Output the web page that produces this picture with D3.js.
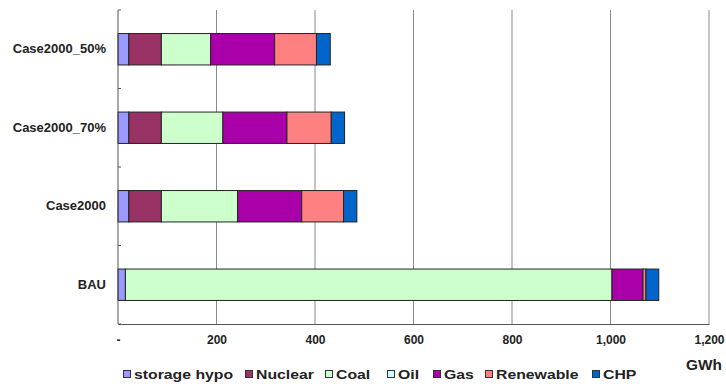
<!DOCTYPE html>
<html>
<head>
<meta charset="utf-8">
<script src="https://cdn.jsdelivr.net/npm/d3@7"></script>
<style>
  html, body { margin: 0; padding: 0; background: #fff; }
  svg { display: block; }
  text { font-family: "Liberation Sans", Arial, sans-serif; font-weight: bold; fill: #222; }
</style>
</head>
<body>
<svg id="chart" width="726" height="384"></svg>
<script>
// Generation mix per scenario (GWh)
const categories = ["Case2000_50%", "Case2000_70%", "Case2000", "BAU"];
const seriesNames = ["storage hypo", "Nuclear", "Coal", "Oil", "Gas", "Renewable", "CHP"];
const storageHypo = [22, 22, 22, 15];
const nuclear     = [66, 66, 66, 0];
const coal        = [100, 125, 155, 988];
const oil         = [0, 0, 0, 0];
const gas         = [130, 130, 130, 63];
const renewable   = [85, 90, 85, 6];
const chp         = [28, 27, 27, 26];
const xTicks = [0, 200, 400, 600, 800, 1000, 1200];
const colors = ["#9999FF", "#993366", "#CCFFCC", "#CCFFFF", "#AA00AA", "#FF8080", "#0066CC"];

const seriesValues = [storageHypo, nuclear, coal, oil, gas, renewable, chp];
const rows = categories.map((c, i) => {
  const r = { category: c };
  seriesNames.forEach((s, k) => { r[s] = seriesValues[k][i]; });
  return r;
});

const svg = d3.select("#chart");
const plot = { left: 118, right: 709, top: 10, bottom: 324 };

const x = d3.scaleLinear().domain([0, 1200]).range([plot.left, plot.right]);
const y = d3.scaleBand().domain(categories).range([plot.top, plot.bottom])
  .paddingInner(0.6).paddingOuter(0.3);

// vertical gridlines
svg.append("g").selectAll("line").data(xTicks.filter(d => d > 0)).join("line")
  .attr("x1", d => x(d)).attr("x2", d => x(d))
  .attr("y1", plot.top).attr("y2", plot.bottom)
  .attr("stroke", "#8a8a8a").attr("stroke-width", 1);

// stacked bars
const stacked = d3.stack().keys(seriesNames)(rows);
svg.append("g").selectAll("g").data(stacked).join("g")
  .attr("fill", (d, i) => colors[i])
  .selectAll("rect").data(d => d.filter(s => s[1] - s[0] > 0)).join("rect")
  .attr("x", d => x(d[0]))
  .attr("width", d => x(d[1]) - x(d[0]))
  .attr("y", d => y(d.data.category))
  .attr("height", y.bandwidth())
  .attr("stroke", "#222").attr("stroke-width", 1);

// value axis
const xAxis = d3.axisBottom(x).tickValues(xTicks)
  .tickFormat(d => d === 0 ? "-" : d3.format(",")(d))
  .tickSize(0).tickPadding(11);
const gx = svg.append("g").attr("transform", `translate(0,${plot.bottom})`).call(xAxis);
gx.select(".domain").attr("stroke", "#555");
gx.selectAll("text").attr("font-size", 12).attr("fill", "#222")
  .attr("font-family", "Liberation Sans, Arial, sans-serif").attr("font-weight", "bold");

// category axis with inward ticks at band edges
const bandEdges = [plot.top].concat(categories.map(c => y(c) + y.bandwidth() + y.step() * y.paddingInner() / 2));
svg.append("line").attr("x1", plot.left).attr("x2", plot.left)
  .attr("y1", plot.top).attr("y2", plot.bottom).attr("stroke", "#555");
svg.append("g").selectAll("line").data(bandEdges).join("line")
  .attr("x1", plot.left).attr("x2", plot.left + 3)
  .attr("y1", d => d).attr("y2", d => d).attr("stroke", "#555");

const yAxis = d3.axisLeft(y).tickSize(0).tickPadding(12);
const gy = svg.append("g").attr("transform", `translate(${plot.left},0)`).call(yAxis);
gy.select(".domain").remove();
gy.selectAll("text").attr("font-size", 13).attr("fill", "#222")
  .attr("font-family", "Liberation Sans, Arial, sans-serif").attr("font-weight", "bold");

// unit label
svg.append("text").attr("transform", "translate(722,370) scale(1.1,1)")
  .attr("text-anchor", "end").attr("font-size", 14).text("GWh");

// legend
const legendX = [123, 245, 325, 387, 433, 485, 592];
const lg = svg.append("g").selectAll("g").data(seriesNames).join("g")
  .attr("transform", (d, i) => `translate(${legendX[i]},379)`);
lg.append("rect").attr("x", 0.5).attr("y", -8.5).attr("width", 7).attr("height", 7)
  .attr("fill", (d, i) => colors[i]).attr("stroke", "#333").attr("stroke-width", 1);
lg.append("text").attr("transform", "translate(11,0) scale(1.17,1)")
  .attr("font-size", 13.5).text(d => d);
</script>
</body>
</html>
